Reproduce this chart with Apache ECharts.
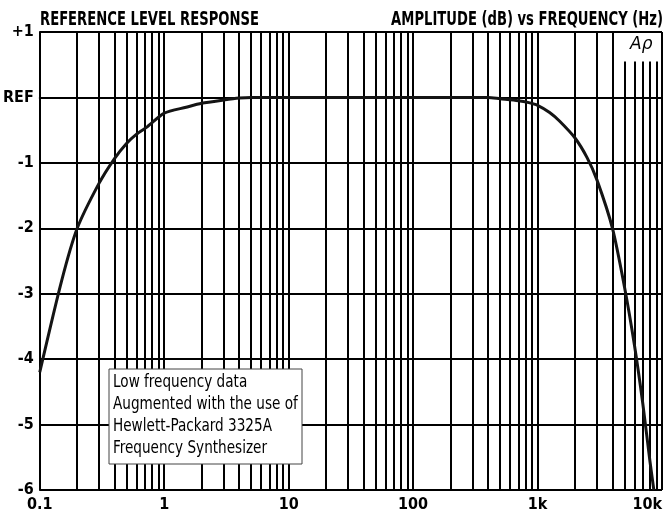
<!DOCTYPE html>
<html>
<head>
<meta charset="utf-8">
<script src="https://cdn.jsdelivr.net/npm/echarts@6/dist/echarts.min.js"></script>
<style>
  html, body { margin: 0; padding: 0; background: #fff; }
  #chart { width: 668px; height: 514px; }
</style>
</head>
<body>
<div id="chart"></div>
<script>
// response curve (Hz, dB re REF)
const freqs = [0.1, 0.15, 0.2, 0.3, 0.4, 0.5, 0.6, 0.73, 1, 1.5, 2, 3, 4, 5, 10, 50, 100, 300, 400, 500, 700, 850, 1000, 1250, 1500, 2000, 2500, 3000, 4000, 5000, 6000, 7000, 8000, 8600]
const levels = [-4.2, -2.8, -2.0, -1.31, -0.93, -0.7, -0.56, -0.45, -0.24, -0.15, -0.09, -0.04, -0.01, 0, 0, 0, 0, 0, 0, -0.02, -0.05, -0.08, -0.12, -0.23, -0.36, -0.62, -0.92, -1.26, -2.0, -2.9, -3.78, -4.67, -5.56, -6]

const yTicks = [1, 0, -1, -2, -3, -4, -5, -6]
const yTickLabels = ['+1', 'REF', '-1', '-2', '-3', '-4', '-5', '-6']
const xTickLabels = { 0.1: '0.1', 1: '1', 10: '10', 100: '100', 1000: '1k', 10000: '10k' }
const noteLines = ['Low frequency data', 'Augmented with the use of', 'Hewlett-Packard 3325A', 'Frequency Synthesizer']

const FONT = '"Liberation Sans Narrow", "DejaVu Sans Condensed", "Arial Narrow", sans-serif'

// vertical grid: 1..9 per decade, the 5k-9k lines stop under the logo
const fullLines = []
const shortLines = []
for (let d = 0.1; d < 10000; d *= 10) {
  for (let m = 1; m <= 9; m++) {
    const f = +(m * d).toPrecision(3)
    if (f === 0.1) continue
    if (f >= 5000) shortLines.push(f)
    else fullLines.push(f)
  }
}
fullLines.push(10000)

const chart = echarts.init(document.getElementById('chart'))

const lineStyle = { color: '#000', width: 2, type: 'solid' }
const markData = fullLines.map(f => [{ coord: [f, -6] }, { coord: [f, 1] }])
  .concat(shortLines.map(f => [{ coord: [f, -6] }, { coord: [f, 0.55] }]))

const option = {
  animation: false,
  backgroundColor: '#fff',
  grid: { left: 39, right: 6, top: 32, bottom: 24 },
  xAxis: {
    type: 'log',
    logBase: 10,
    min: 0.1,
    max: 10000,
    axisLine: { show: true, lineStyle: { color: '#000', width: 2 } },
    axisTick: { show: false },
    splitLine: { show: false },
    axisLabel: {
      color: '#000',
      fontFamily: FONT,
      fontWeight: 'bold',
      fontSize: 16,
      margin: 7,
      alignMaxLabel: 'right',
      formatter: v => xTickLabels[v] !== undefined ? xTickLabels[v] : ''
    }
  },
  yAxis: {
    type: 'value',
    min: -6,
    max: 1,
    interval: 1,
    axisLine: { show: true, lineStyle: { color: '#000', width: 2 } },
    axisTick: { show: false },
    splitLine: { show: true, lineStyle: { color: '#000', width: 2 } },
    axisLabel: {
      color: '#000',
      fontFamily: FONT,
      fontWeight: 'bold',
      fontSize: 16,
      margin: 6,
      formatter: v => yTickLabels[yTicks.indexOf(v)] || ''
    }
  },
  graphic: [
    {
      type: 'text', x: 40, y: 11, scaleX: 0.77, z: 100,
      style: { text: 'REFERENCE LEVEL RESPONSE', font: 'bold 19px ' + FONT, fill: '#000' }
    },
    {
      type: 'text', x: 663, y: 11, scaleX: 0.77, z: 100,
      style: { text: 'AMPLITUDE (dB) vs FREQUENCY (Hz)', font: 'bold 19px ' + FONT, fill: '#000', align: 'right' }
    },
    {
      type: 'text', x: 630, y: 36, z: 100,
      style: { text: 'Aρ', font: 'italic 17px "DejaVu Sans", sans-serif', fill: '#000' }
    },
    {
      type: 'rect', x: 109, y: 369, z: 100,
      shape: { x: 0, y: 0, width: 193, height: 95 },
      style: { fill: '#fff', stroke: '#444', lineWidth: 1 }
    },
    {
      type: 'text', x: 113, y: 371, scaleX: 0.84, z: 101,
      style: { text: noteLines.join('\n'), font: '18px ' + FONT, lineHeight: 22, fill: '#000' }
    }
  ],
  series: [
    {
      type: 'line',
      data: freqs.map((f, i) => [f, levels[i]]),
      showSymbol: false,
      smooth: 0.25,
      lineStyle: { color: '#141414', width: 3 },
      z: 5,
      markLine: {
        silent: true,
        symbol: ['none', 'none'],
        label: { show: false },
        lineStyle: lineStyle,
        data: markData,
        z: 1
      }
    }
  ]
}

option && chart.setOption(option)
</script>
</body>
</html>
